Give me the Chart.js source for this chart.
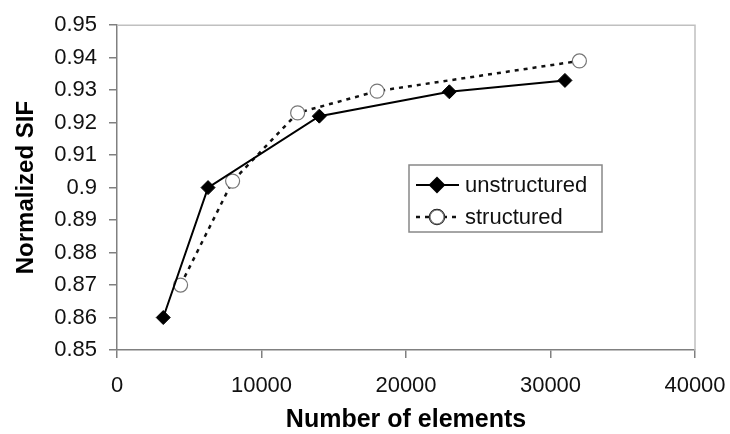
<!DOCTYPE html>
<html>
<head>
<meta charset="utf-8">
<script src="https://cdn.jsdelivr.net/npm/chart.js@4"></script>
<style>
  html, body { margin: 0; padding: 0; background: #fff; }
  #wrap { width: 730px; height: 434px; }
</style>
</head>
<body>
<div id="wrap"><canvas id="sif-chart" width="730" height="434"></canvas></div>
<script>
// number of elements / normalized SIF
const unstructuredX = [3200, 6300, 14000, 23000, 31000];
const unstructuredY = [0.860, 0.900, 0.922, 0.9295, 0.933];
const structuredX = [4400, 8000, 12500, 18000, 32000];
const structuredY = [0.870, 0.902, 0.923, 0.9297, 0.939];

const xTicks = [0, 10000, 20000, 30000, 40000];
const yTicks = [0.85, 0.86, 0.87, 0.88, 0.89, 0.90, 0.91, 0.92, 0.93, 0.94, 0.95];
const yTickLabels = ["0.85", "0.86", "0.87", "0.88", "0.89", "0.9", "0.91", "0.92", "0.93", "0.94", "0.95"];

const FONT = "'Liberation Sans', Arial, sans-serif";
const AXIS_COLOR = "#808080";

function toPoints(xs, ys) {
    return xs.map((x, i) => ({ x: x, y: ys[i] }));
}

// light frame on top and right of plot area, like excel
const frame = {
    id: 'frame',
    beforeDatasetsDraw(chart) {
        const a = chart.chartArea;
        const ctx = chart.ctx;
        ctx.save();
        ctx.strokeStyle = "#c0c0c0";
        ctx.lineWidth = 1.5;
        ctx.beginPath();
        ctx.moveTo(a.left, a.top);
        ctx.lineTo(a.right, a.top);
        ctx.lineTo(a.right, a.bottom);
        ctx.stroke();
        ctx.restore();
    }
};

// boxed legend inside the plot
const boxLegend = {
    id: 'boxLegend',
    afterDatasetsDraw(chart) {
        const ctx = chart.ctx;
        const left = 409, top = 165, w = 193, h = 67;
        ctx.save();
        ctx.fillStyle = "#fff";
        ctx.fillRect(left, top, w, h);
        ctx.strokeStyle = "#888";
        ctx.lineWidth = 1.5;
        ctx.strokeRect(left, top, w, h);

        const rows = [top + 20, top + 52];
        chart.data.datasets.forEach((ds, i) => {
            const y = rows[i];
            ctx.strokeStyle = ds.borderColor;
            ctx.lineWidth = ds.borderWidth;
            ctx.setLineDash(ds.borderDash || []);
            ctx.beginPath();
            ctx.moveTo(left + 7, y);
            ctx.lineTo(left + 50, y);
            ctx.stroke();
            ctx.setLineDash([]);
            Chart.helpers.drawPoint(ctx, {
                pointStyle: ds.pointStyle,
                radius: ds.pointRadius,
                borderWidth: ds.pointBorderWidth,
                rotation: 0
            }, left + 28, y);
            ctx.fillStyle = ds.pointBackgroundColor;
            ctx.strokeStyle = ds.pointBorderColor;
            ctx.lineWidth = ds.pointBorderWidth;
            ctx.fill();
            ctx.stroke();
            ctx.fillStyle = "#111";
            ctx.font = "22px " + FONT;
            ctx.textBaseline = "middle";
            ctx.fillText(ds.label, left + 56, y + 1);
        });
        ctx.restore();
    }
};

const config = {
    type: 'scatter',
    data: {
        datasets: [
            {
                label: "unstructured",
                data: toPoints(unstructuredX, unstructuredY),
                showLine: true,
                borderColor: "#000",
                borderWidth: 2,
                pointStyle: 'rectRot',
                pointRadius: 7,
                pointBackgroundColor: "#000",
                pointBorderColor: "#000",
                pointBorderWidth: 1
            },
            {
                label: "structured",
                data: toPoints(structuredX, structuredY),
                showLine: true,
                borderColor: "#111",
                borderWidth: 2.5,
                borderDash: [4, 5],
                pointStyle: 'circle',
                pointRadius: 7,
                pointBackgroundColor: "#fff",
                pointBorderColor: "#777",
                pointBorderWidth: 1.2
            }
        ]
    },
    options: {
        responsive: false,
        animation: false,
        layout: { padding: { top: 17, right: 35, left: 0, bottom: 0 } },
        plugins: {
            legend: { display: false },
            tooltip: { enabled: false }
        },
        scales: {
            x: {
                type: 'linear',
                min: 0,
                max: 40000,
                afterFit: (s) => {
                    s.height = 84;
                    s.paddingLeft = 0;
                    s.paddingRight = 0;
                },
                afterBuildTicks: (s) => { s.ticks = xTicks.map(v => ({ value: v })); },
                border: { color: AXIS_COLOR, width: 1.5 },
                grid: { drawOnChartArea: false, drawTicks: true, tickLength: 8, color: AXIS_COLOR, lineWidth: 1.5 },
                ticks: {
                    color: "#111",
                    padding: 15,
                    maxRotation: 0,
                    autoSkip: false,
                    font: { family: FONT, size: 22 },
                    callback: (v) => String(v)
                },
                title: {
                    display: true,
                    text: "Number of elements",
                    color: "#000",
                    font: { family: FONT, size: 25, weight: 'bold', lineHeight: 1.1 },
                    padding: { top: 0, bottom: 0 }
                }
            },
            y: {
                type: 'linear',
                min: 0.85,
                max: 0.95,
                afterFit: (s) => { s.width = 117; },
                afterBuildTicks: (s) => { s.ticks = yTicks.map(v => ({ value: v })); },
                border: { color: AXIS_COLOR, width: 1.5 },
                grid: { drawOnChartArea: false, drawTicks: true, tickLength: 8, color: AXIS_COLOR, lineWidth: 1.5 },
                ticks: {
                    color: "#111",
                    padding: 12,
                    autoSkip: false,
                    font: { family: FONT, size: 22 },
                    callback: (v, i) => yTickLabels[i]
                },
                title: {
                    display: true,
                    text: "Normalized SIF",
                    color: "#000",
                    font: { family: FONT, size: 24, weight: 'bold' },
                    padding: { top: 12, bottom: 0 }
                }
            }
        }
    },
    plugins: [frame, boxLegend]
};

const chart = new Chart(document.getElementById('sif-chart'), config);
</script>
</body>
</html>
